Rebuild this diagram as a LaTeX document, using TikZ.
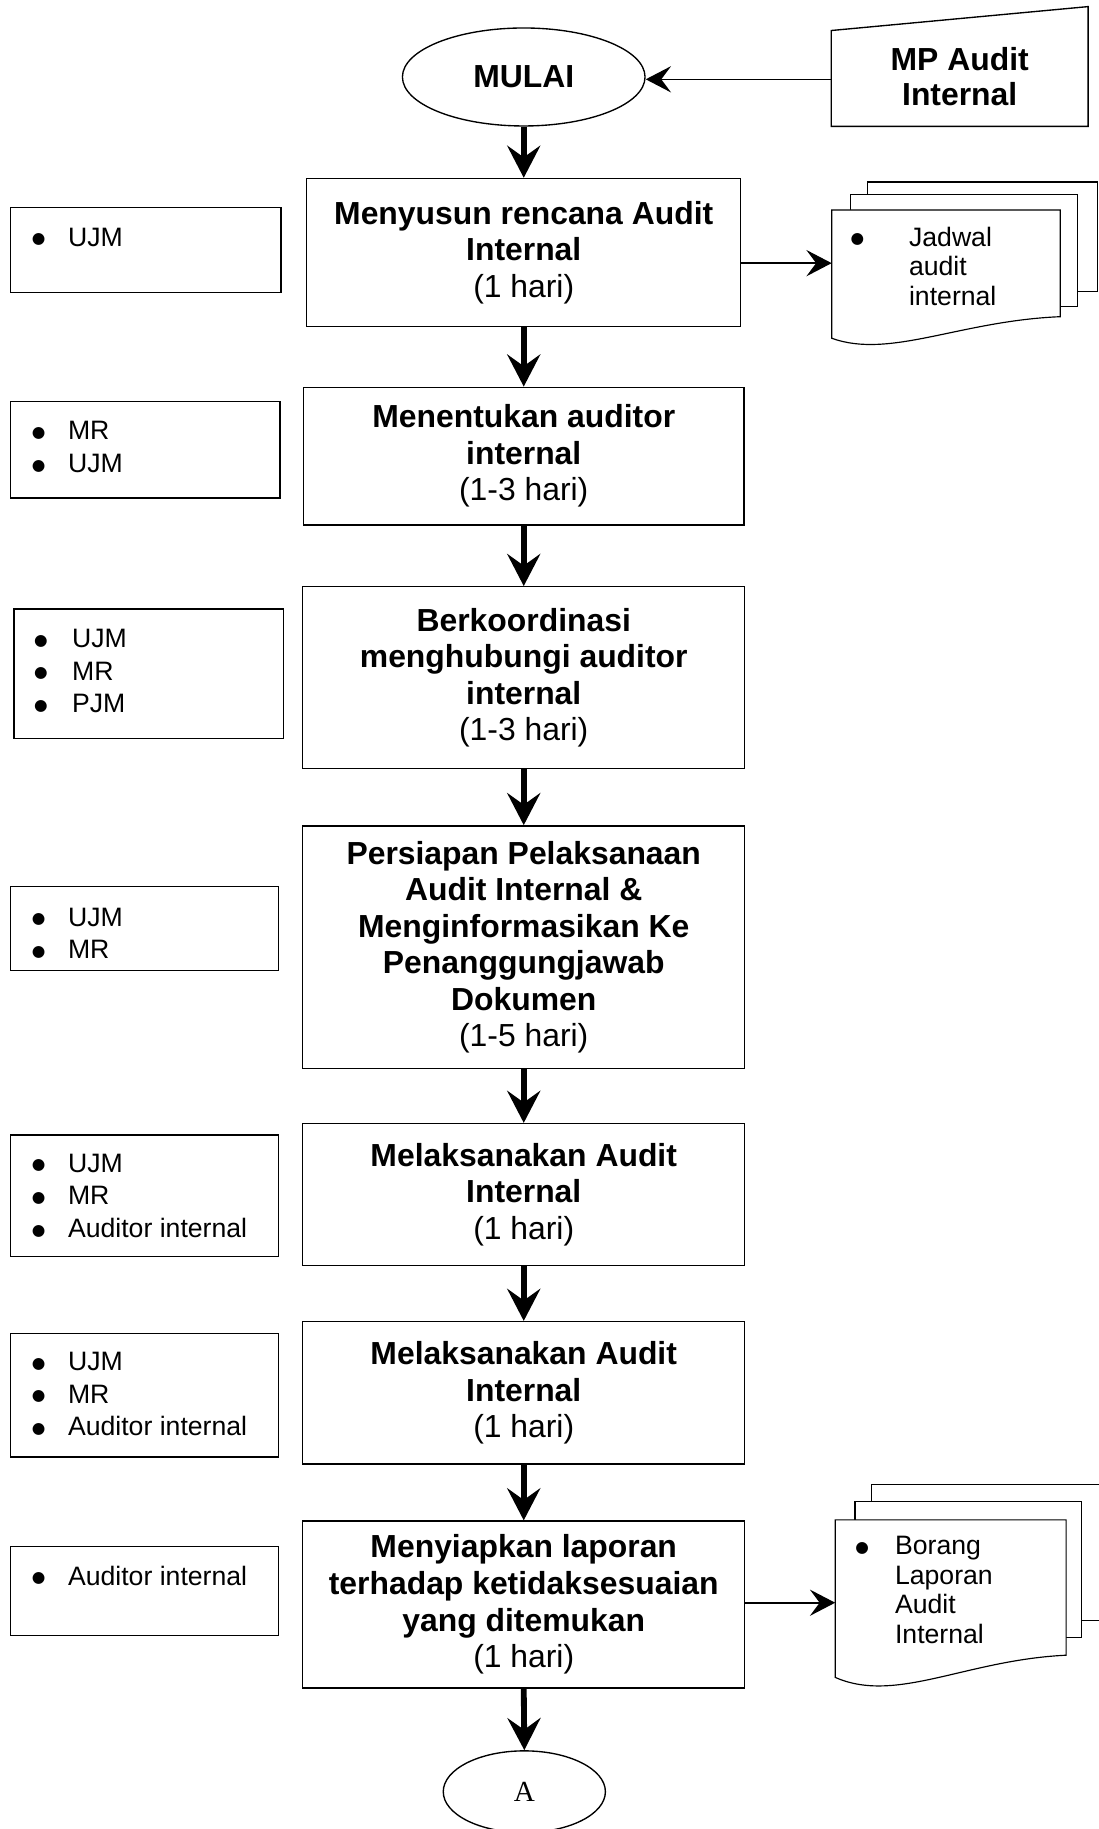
\documentclass[tikz,border=0pt]{standalone}
\usepackage{fontspec}
\setmainfont{Liberation Sans}
\newfontfamily\seriffont{Liberation Serif}
\newfontfamily\symfont{DejaVu Sans}
\usetikzlibrary{arrows.meta,shapes.geometric}
\newcommand{\bul}[1][18.6pt]{\makebox[#1][l]{\raisebox{1.2pt}{\symfont\fontsize{8pt}{8pt}\selectfont ●}}}

\begin{document}
\begin{tikzpicture}[x=0.6pt,y=-0.6pt,
        proc/.style={draw,line width=0.7pt,align=center,inner sep=0pt,
            minimum width=227.4pt,font=\fontsize{16.4pt}{18.8pt}\selectfont},
        term/.style={draw,ellipse,line width=0.7pt,inner sep=0pt},
        resbox/.style={draw,line width=0.7pt,inner sep=0pt,minimum width=138pt},
        restext/.style={anchor=base west,inner sep=0pt,
            font=\fontsize{13.7pt}{16.8pt}\selectfont},
        doctext/.style={anchor=base west,inner sep=0pt,
            font=\fontsize{13.7pt}{15.2pt}\selectfont},
        page/.style={draw,fill=white,line width=0.6pt},
        flow/.style={-{Stealth[length=16.5pt,width=17pt,inset=6pt]},line width=3pt},
        feed/.style={-{Stealth[length=13pt,width=13.5pt,inset=5pt]},line width=0.8pt}]
    \useasboundingbox (0,0) rectangle (942,1568);

    % start and input document
    \node[term,minimum width=124.8pt,minimum height=50.4pt,
        font=\fontsize{16.4pt}{18.8pt}\selectfont\bfseries] (mulai) at (449,66) {MULAI};
    \node[inner sep=0pt,minimum width=131.7pt,minimum height=48.9pt,align=center,
        font=\fontsize{16.4pt}{18pt}\selectfont\bfseries] (mp) at (822.75,66) {MP Audit\\Internal};
    \draw[line width=0.7pt] ([yshift=-0.75pt]mp.south west) -- ([yshift=-0.75pt]mp.north west)
        -- ([yshift=11.55pt]mp.north east) -- ([yshift=-0.75pt]mp.south east) -- cycle;
    \draw[feed] ([yshift=-1.2pt]mp.west) -- ([yshift=-1.2pt]mulai.east);

    % process steps
    \node[proc,minimum width=223.2pt,minimum height=76.2pt] (p1) at (449,216.5)
        {\textbf{Menyusun rencana Audit}\\\textbf{Internal}\\(1 hari)};
    \node[proc,minimum width=226.5pt,minimum height=70.8pt] (p2) at (449,391)
        {\textbf{Menentukan auditor}\\\textbf{internal}\\(1-3 hari)};
    \node[proc,minimum height=93.6pt] (p3) at (449,581)
        {\textbf{Berkoordinasi}\\\textbf{menghubungi auditor}\\\textbf{internal}\\(1-3 hari)};
    \node[proc,minimum height=124.8pt] (p4) at (449,812)
        {\textbf{Persiapan Pelaksanaan}\\\textbf{Audit Internal \&}\\\textbf{Menginformasikan Ke}\\
         \textbf{Penanggungjawab}\\\textbf{Dokumen}\\(1-5 hari)};
    \node[proc,minimum height=72.9pt] (p5) at (449,1024)
        {\textbf{Melaksanakan Audit}\\\textbf{Internal}\\(1 hari)};
    \node[proc,minimum height=73.2pt] (p6) at (449,1194)
        {\textbf{Melaksanakan Audit}\\\textbf{Internal}\\(1 hari)};
    \node[proc,minimum height=85.8pt] (p7) at (449,1375.5)
        {\textbf{Menyiapkan laporan}\\\textbf{terhadap ketidaksesuaian}\\\textbf{yang ditemukan}\\(1 hari)};
    \node[term,minimum width=83.4pt,minimum height=42pt,
        font=\seriffont\fontsize{15pt}{18pt}\selectfont] (a) at (449.5,1536) {A};

    \draw[flow] (mulai.south) -- (p1.north);
    \draw[flow] (p1.south) -- (p2.north);
    \draw[flow] (p2.south) -- (p3.north);
    \draw[flow] (p3.south) -- (p4.north);
    \draw[flow] (p4.south) -- (p5.north);
    \draw[flow] (p5.south) -- (p6.north);
    \draw[flow] (p6.south) -- (p7.north);
    \draw[flow] (p7.south) -- (a.north);

    % people in charge
    \node[resbox,minimum width=139.2pt,minimum height=43.8pt] (r1) at (125,214.5) {};
    \node[restext] (r1t) at (27,211) {\begin{tabular}[t]{@{}l@{}}\bul UJM\end{tabular}};
    \node[resbox,minimum width=138.6pt,minimum height=49.8pt] (r2) at (124.5,385.5) {};
    \node[restext] (r2t) at (27,377) {\begin{tabular}[t]{@{}l@{}}\bul MR\\\bul UJM\end{tabular}};
    \node[resbox,minimum width=138.6pt,minimum height=66.6pt] (r3) at (127.5,577.5) {};
    \node[restext] (r3t) at (29,555) {\begin{tabular}[t]{@{}l@{}}\bul[19.5pt]UJM\\\bul[19.5pt]MR\\\bul[19.5pt]PJM\end{tabular}};
    \node[resbox,minimum height=43.2pt] (r4) at (124,796) {};
    \node[restext] (r4t) at (27,794) {\begin{tabular}[t]{@{}l@{}}\bul UJM\\\bul MR\end{tabular}};
    \node[resbox,minimum height=62.4pt] (r5) at (124,1025) {};
    \node[restext] (r5t) at (27,1005) {\begin{tabular}[t]{@{}l@{}}\bul UJM\\\bul MR\\\bul Auditor internal\end{tabular}};
    \node[resbox,minimum height=63.6pt] (r6) at (124,1196) {};
    \node[restext] (r6t) at (27,1175) {\begin{tabular}[t]{@{}l@{}}\bul UJM\\\bul MR\\\bul Auditor internal\end{tabular}};
    \node[resbox,minimum height=45.6pt] (r7) at (124,1364) {};
    \node[restext] (r7t) at (27,1359) {\begin{tabular}[t]{@{}l@{}}\bul Auditor internal\end{tabular}};

    % output documents
    \begin{scope}[shift={(713,180)}]
        \draw[page] (31,-24) rectangle (228,70);
        \draw[page] (16,-13) rectangle (211,83);
        \draw[page] (0,0) -- (196,0) -- (196,91.5)
            .. controls (110,95) and (50,128) .. (0,110) -- cycle;
        \node[doctext] (d1t) at (16,31)
            {\begin{tabular}[t]{@{}l@{}l@{}}\bul[30pt]&Jadwal\\&audit\\&internal\end{tabular}};
        \coordinate (d1in) at (0,45.6);
    \end{scope}
    \begin{scope}[shift={(716,1303)}]
        \draw[page] (31,-30) rectangle (230,86);
        \draw[page] (17,-16) rectangle (211,101);
        \draw[page] (0,0) -- (198,0) -- (198,116)
            .. controls (112,120) and (52,158) .. (0,135) -- cycle;
        \node[doctext] (d2t) at (17,30)
            {\begin{tabular}[t]{@{}l@{}l@{}}\bul[20.4pt]&Borang\\&Laporan\\&Audit\\&Internal\end{tabular}};
        \coordinate (d2in) at (0,71);
    \end{scope}
    \draw[feed] (p1.east |- d1in) -- (d1in);
    \draw[feed] (p7.east |- d2in) -- (d2in);
\end{tikzpicture}
\end{document}
